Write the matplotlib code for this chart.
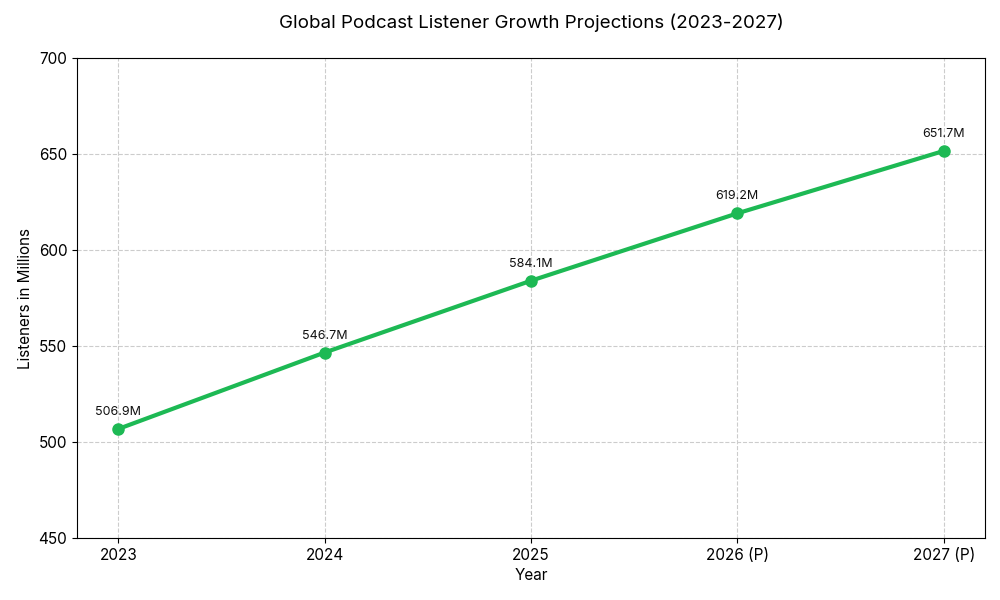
import matplotlib
matplotlib.use("Agg")
import matplotlib.pyplot as plt

# ------------------------------------------------------------
# Data
# ------------------------------------------------------------

years = ["2023", "2024", "2025", "2026 (P)", "2027 (P)"]
listeners_m = [506.9, 546.7, 584.1, 619.2, 651.7]
y_ticks = [450, 500, 550, 600, 650, 700]

LINE_COLOR = "#1DB954"

plt.rcParams["font.family"] = ["Inter", "DejaVu Sans"]

fig = plt.figure(figsize=(10, 6), dpi=100)
ax = fig.add_axes([0.077, 0.103, 0.908, 0.800])

x = list(range(len(years)))

ax.plot(
    x,
    listeners_m,
    color=LINE_COLOR,
    linewidth=3,
    marker="o",
    markersize=8,
    zorder=3,
)

for xi, val in zip(x, listeners_m):
    ax.annotate(
        f"{val:.1f}M",
        (xi, val),
        textcoords="offset points",
        xytext=(0, 10),
        ha="center",
        fontsize=9,
        color="#111111",
    )

ax.set_xticks(x)
ax.set_xticklabels(years, fontsize=11)
ax.set_yticks(y_ticks)
ax.tick_params(axis="y", labelsize=11)
ax.set_xlim(-0.2, 4.2)
ax.set_ylim(450, 700)

ax.grid(True, linestyle="--", color="#cccccc", linewidth=0.8)
ax.set_axisbelow(True)

ax.set_xlabel("Year", fontsize=11)
ax.set_ylabel("Listeners in Millions", fontsize=11)
ax.set_title("Global Podcast Listener Growth Projections (2023-2027)", fontsize=13.5, pad=22)

fig.savefig("out.png", dpi=100)
